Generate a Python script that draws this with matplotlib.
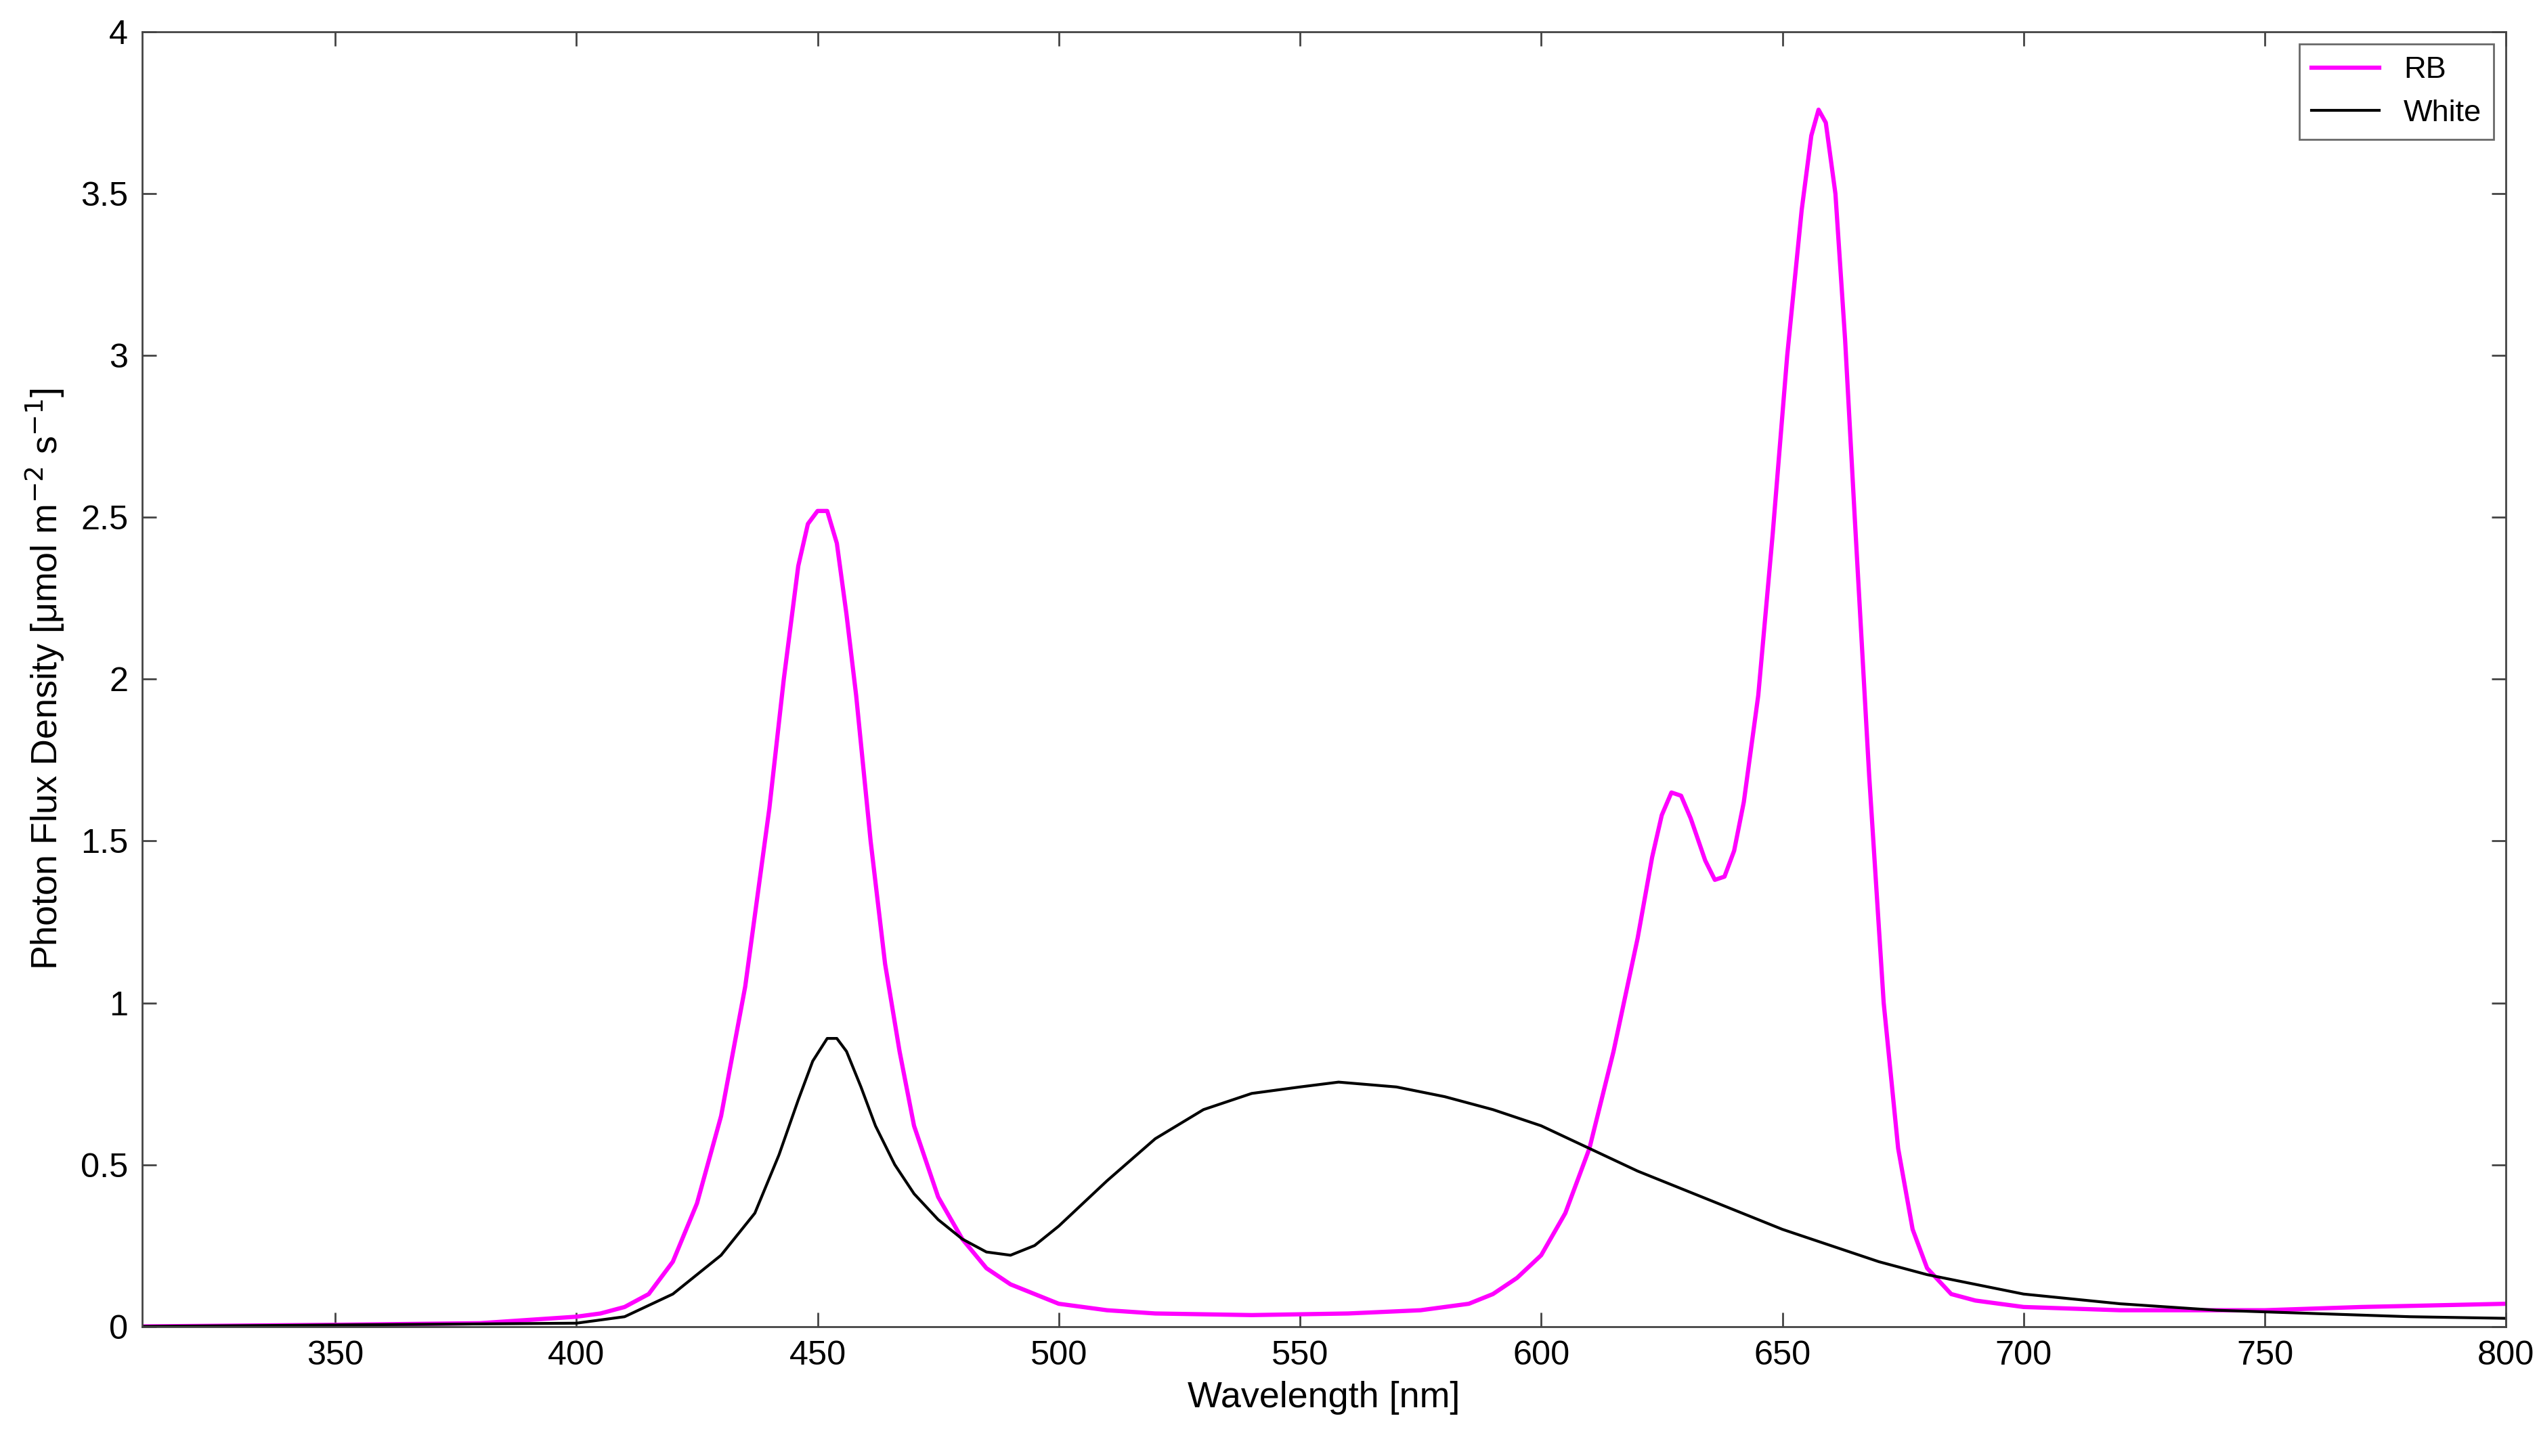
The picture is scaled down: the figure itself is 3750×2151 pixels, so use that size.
import matplotlib.pyplot as plt

plt.rcParams['font.family'] = ['Liberation Sans', 'DejaVu Sans']

# RB lamp spectrum
rb_wl = [310, 350, 380, 400, 405, 410, 415, 420, 425, 430, 435, 440, 443, 446, 448, 450, 452, 454,
         456, 458, 461, 464, 467, 470, 475, 480, 485, 490, 500, 510, 520, 540, 560, 575, 585, 590,
         595, 600, 605, 610, 615, 620, 623, 625, 627, 629, 631, 634, 636, 638, 640, 642, 645, 648,
         651, 654, 656, 657.5, 659, 661, 663, 665, 668, 671, 674, 677, 680, 685, 690, 700, 720, 750,
         770, 800]
rb_val = [0.0, 0.005, 0.01, 0.03, 0.04, 0.06, 0.1, 0.2, 0.38, 0.65, 1.05, 1.6, 2.0, 2.35, 2.48,
          2.52, 2.52, 2.42, 2.2, 1.95, 1.5, 1.12, 0.85, 0.62, 0.4, 0.27, 0.18, 0.13, 0.07, 0.05, 0.04,
          0.035, 0.04, 0.05, 0.07, 0.1, 0.15, 0.22, 0.35, 0.55, 0.85, 1.2, 1.45, 1.58, 1.65, 1.64,
          1.57, 1.44, 1.38, 1.39, 1.47, 1.62, 1.95, 2.45, 3.0, 3.45, 3.68, 3.76, 3.72, 3.5, 3.05, 2.5,
          1.7, 1.0, 0.55, 0.3, 0.18, 0.1, 0.08, 0.06, 0.05, 0.05, 0.06, 0.07]

# White lamp spectrum
wh_wl = [310, 400, 410, 420, 430, 437, 442, 446, 449, 452, 454, 456, 459, 462, 466, 470, 475, 480,
         485, 490, 495, 500, 510, 520, 530, 540, 550, 558, 570, 580, 590, 600, 610, 620, 630, 640,
         650, 660, 670, 680, 690, 700, 720, 740, 760, 780, 800]
wh_val = [0.0, 0.01, 0.03, 0.1, 0.22, 0.35, 0.53, 0.7, 0.82, 0.89, 0.89, 0.85, 0.74, 0.62, 0.5, 0.41,
          0.33, 0.27, 0.23, 0.22, 0.25, 0.31, 0.45, 0.58, 0.67, 0.72, 0.74, 0.755, 0.74, 0.71, 0.67,
          0.62, 0.55, 0.48, 0.42, 0.36, 0.3, 0.25, 0.2, 0.16, 0.13, 0.1, 0.07, 0.05, 0.04, 0.03, 0.025]

fig = plt.figure(figsize=(15.0, 8.604), dpi=250)
ax = fig.add_axes([0.056, 0.089, 0.931, 0.889])

ax.plot(rb_wl, rb_val, color='#ff00ff', lw=1.8, label='RB')
ax.plot(wh_wl, wh_val, color='black', lw=1.2, label='White')

ax.set_xlim(310, 800)
ax.set_ylim(0, 4)
ax.set_xticks(range(350, 801, 50))
ax.set_yticks([0, 0.5, 1, 1.5, 2, 2.5, 3, 3.5, 4])
ax.set_yticklabels(['0', '0.5', '1', '1.5', '2', '2.5', '3', '3.5', '4'])
ax.tick_params(direction='in', top=True, right=True, labelsize=14.5, length=6, color='#444444',
               pad=6)
for s in ax.spines.values():
    s.set_color('#444444')
ax.set_xlabel('Wavelength [nm]', fontsize=15.5, labelpad=4)
ax.set_ylabel('Photon Flux Density [μmol m$^{-2}$ s$^{-1}$]', fontsize=15.5, labelpad=6)

leg = ax.legend(loc='upper right', fontsize=13, fancybox=False, edgecolor='#444444',
                handlelength=2.2, borderaxespad=0.4)
leg.get_frame().set_linewidth(0.8)

fig.savefig('out.png', dpi=250)
